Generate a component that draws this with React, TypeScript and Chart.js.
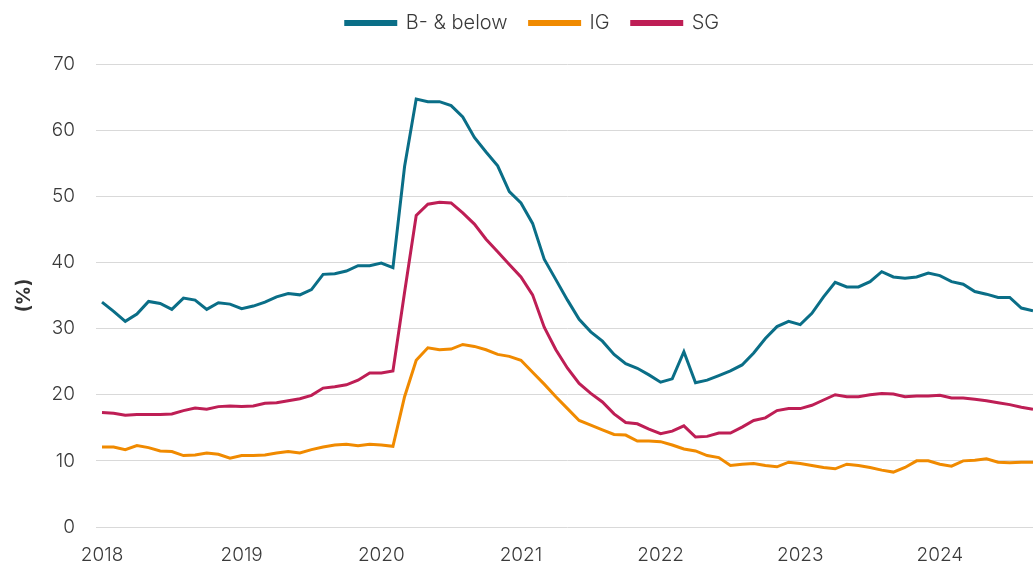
import React, { useEffect, useRef } from "react";
import { Chart, registerables } from "chart.js";

Chart.register(...registerables);

const years = ["2018", "2019", "2020", "2021", "2022", "2023", "2024"];
const monthsInLastYear = 9;

const bBelow = [
  34.0, 32.6, 31.1, 32.2, 34.1, 33.8, 32.9, 34.6, 34.3, 32.9, 33.9, 33.7,
  33.0, 33.4, 34.0, 34.8, 35.3, 35.1, 35.9, 38.2, 38.3, 38.7, 39.5, 39.5,
  39.9, 39.2, 54.5, 64.7, 64.3, 64.3, 63.7, 62.0, 58.9, 56.7, 54.6, 50.7,
  49.0, 45.9, 40.5, 37.4, 34.3, 31.4, 29.5, 28.1, 26.1, 24.7, 24.0, 23.0,
  21.9, 22.4, 26.5, 21.8, 22.2, 22.9, 23.6, 24.5, 26.3, 28.5, 30.3, 31.1,
  30.6, 32.3, 34.8, 37.0, 36.3, 36.3, 37.1, 38.6, 37.8, 37.6, 37.8, 38.4,
  38.0, 37.1, 36.7, 35.6, 35.2, 34.7, 34.7, 33.1, 32.7,
];

const ig = [
  12.1, 12.1, 11.7, 12.3, 12.0, 11.5, 11.4, 10.8, 10.9, 11.2, 11.0, 10.4,
  10.8, 10.8, 10.9, 11.2, 11.4, 11.2, 11.7, 12.1, 12.4, 12.5, 12.3, 12.5,
  12.4, 12.2, 19.7, 25.2, 27.1, 26.8, 26.9, 27.6, 27.3, 26.8, 26.1, 25.8,
  25.2, 23.4, 21.6, 19.7, 17.9, 16.1, 15.4, 14.7, 14.0, 13.9, 13.0, 13.0,
  12.9, 12.4, 11.8, 11.5, 10.8, 10.5, 9.3, 9.5, 9.6, 9.3, 9.1, 9.8,
  9.6, 9.3, 9.0, 8.8, 9.5, 9.3, 9.0, 8.6, 8.3, 9.0, 10.0, 10.0,
  9.5, 9.2, 10.0, 10.1, 10.3, 9.8, 9.7, 9.8, 9.8,
];

const sg = [
  17.3, 17.2, 16.9, 17.0, 17.0, 17.0, 17.1, 17.6, 18.0, 17.8, 18.2, 18.3,
  18.2, 18.3, 18.7, 18.8, 19.1, 19.4, 19.9, 21.0, 21.2, 21.5, 22.2, 23.3,
  23.3, 23.6, 35.5, 47.1, 48.8, 49.1, 49.0, 47.5, 45.8, 43.5, 41.6, 39.7,
  37.8, 35.1, 30.2, 26.8, 24.0, 21.7, 20.2, 18.9, 17.1, 15.8, 15.6, 14.8,
  14.1, 14.5, 15.3, 13.6, 13.7, 14.2, 14.2, 15.1, 16.1, 16.5, 17.6, 17.9,
  17.9, 18.4, 19.2, 20.0, 19.7, 19.7, 20.0, 20.2, 20.1, 19.7, 19.8, 19.8,
  19.9, 19.5, 19.5, 19.3, 19.1, 18.8, 18.5, 18.1, 17.8,
];

const yTicks = [0, 10, 20, 30, 40, 50, 60, 70];

const categories: string[] = [];
years.forEach((y, yi) => {
  const n = yi === years.length - 1 ? monthsInLastYear : 12;
  for (let m = 1; m <= n; m++) categories.push(`${y}-${String(m).padStart(2, "0")}`);
});

const FONT = "Inter, 'Open Sans', sans-serif";
const TEXT = "#3a3a3a";

const legendSizer = {
  id: "legendSizer",
  beforeInit(chart: any) {
    const lg = chart.legend;
    if (!lg) return;
    const orig = lg.fit.bind(lg);
    lg.fit = function () {
      orig();
      this.height = 73;
    };
  },
};

export default function App() {
  const ref = useRef<HTMLCanvasElement | null>(null);
  useEffect(() => {
    if (!ref.current) return;
    const chart = new Chart(ref.current, {
      type: "line",
      data: {
        labels: categories,
        datasets: [
          { label: "B- & below", data: bBelow, borderColor: "#0A6E87", backgroundColor: "#0A6E87" },
          { label: "IG", data: ig, borderColor: "#F08A00", backgroundColor: "#F08A00" },
          { label: "SG", data: sg, borderColor: "#BE1E55", backgroundColor: "#BE1E55" },
        ].map((d) => ({ ...d, borderWidth: 3, pointRadius: 0, tension: 0, fill: false })),
      },
      plugins: [legendSizer],
      options: {
        responsive: false,
        animation: false,
        layout: { padding: { top: -9, right: 0, left: 32, bottom: 0 } },
        plugins: {
          tooltip: { enabled: false },
          legend: {
            position: "top",
            labels: {
              boxWidth: 50,
              boxHeight: 3,
              padding: 22,
              color: TEXT,
              font: { family: FONT, size: 20, weight: "300" },
            },
          },
        },
        scales: {
          x: {
            type: "category",
            grid: { display: false, drawTicks: false },
            border: { display: false },
            ticks: {
              autoSkip: false,
              maxRotation: 0,
              padding: 17,
              color: TEXT,
              font: { family: FONT, size: 19, weight: "300" },
              callback: (_v: any, i: number) => (i % 12 === 0 ? categories[i].slice(0, 4) : null),
            },
            afterFit: (s: any) => {
              s.height = 36;
            },
          },
          y: {
            min: 0,
            max: 70,
            afterBuildTicks: (s: any) => {
              s.ticks = yTicks.map((v) => ({ value: v }));
            },
            grid: { color: "#d9d9d9", lineWidth: 1, drawTicks: true, tickLength: 6 },
            border: { display: false },
            ticks: { padding: 21, color: TEXT, font: { family: FONT, size: 19, weight: "300" } },
            title: {
              display: true,
              text: "(%)",
              color: "#333",
              font: { family: FONT, size: 19, weight: "bold" },
              padding: { top: -19.4, bottom: 0 },
            },
            afterFit: (s: any) => {
              s.width = 70;
            },
          },
        },
      },
    });
    return () => chart.destroy();
  }, []);
  return (
    <div style={{ position: "absolute", left: 0, top: 0, width: 1033, height: 563 }}>
      <canvas ref={ref} width={1033} height={563} />
    </div>
  );
}
